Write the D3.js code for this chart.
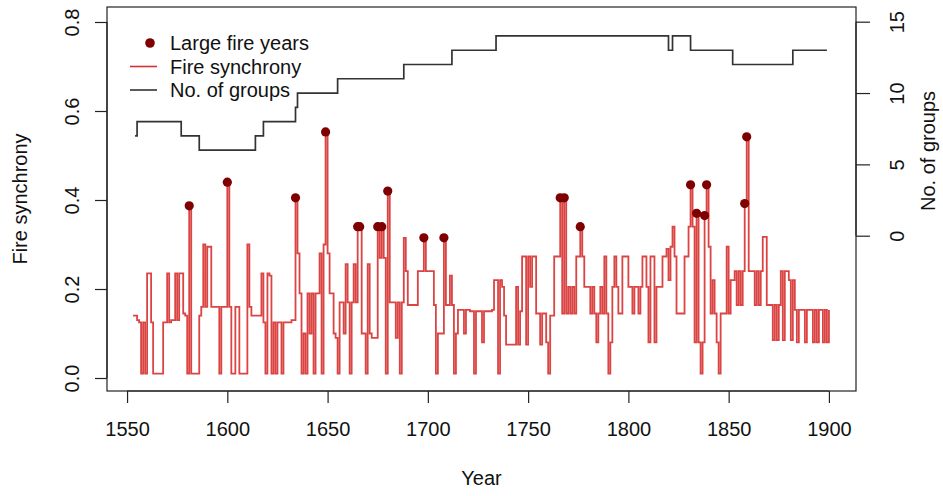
<!DOCTYPE html>
<html>
<head>
<meta charset="utf-8">
<script src="https://cdn.jsdelivr.net/npm/d3@7"></script>
<style>
  body { margin: 0; background: #fff; }
  svg { display: block; font-family: 'Liberation Sans', Arial, sans-serif; }
</style>
</head>
<body>
<svg width="943" height="496"></svg>
<script>
const svg = d3.select('svg');
const width = +svg.attr('width');
const height = +svg.attr('height');

// fire synchrony, one value per year from startYear
const startYear = 1553;
const synchrony = [
    0.14, 0.14, 0.13, 0.125, 0.01, 0.125, 0.01,
    0.235, 0.235, 0.125, 0.01, 0.01, 0.01, 0.01, 0.01, 0.125, 0.125,
    0.235, 0.125, 0.13, 0.13, 0.235, 0.13, 0.235, 0.235, 0.145, 0.14,
    0.01, 0.387, 0.01, 0.01, 0.01, 0.01, 0.14, 0.16, 0.3, 0.16,
    0.295, 0.295, 0.16, 0.16, 0.16, 0.16, 0.01, 0.16, 0.16, 0.16,
    0.44, 0.16, 0.01, 0.01, 0.16, 0.16, 0.01, 0.01, 0.01, 0.01,
    0.3, 0.16, 0.14, 0.14, 0.14, 0.14, 0.14, 0.235, 0.125, 0.01,
    0.235, 0.23, 0.01, 0.125, 0.01, 0.125, 0.125, 0.01, 0.125, 0.125,
    0.125, 0.125, 0.13, 0.13, 0.405, 0.28, 0.19, 0.01, 0.1, 0.01,
    0.19, 0.1, 0.19, 0.01, 0.19, 0.19, 0.28, 0.01, 0.3, 0.553,
    0.28, 0.19, 0.19, 0.1, 0.09, 0.01, 0.17, 0.17, 0.1, 0.256,
    0.17, 0.01, 0.17, 0.256, 0.17, 0.34, 0.34, 0.1, 0.1, 0.01,
    0.256, 0.1, 0.09, 0.09, 0.09, 0.34, 0.27, 0.34, 0.27, 0.01,
    0.42, 0.17, 0.17, 0.17, 0.09, 0.17, 0.01, 0.17, 0.315, 0.24,
    0.164, 0.164, 0.164, 0.164, 0.164, 0.24, 0.24, 0.24, 0.315, 0.24,
    0.24, 0.24, 0.24, 0.164, 0.01, 0.1, 0.1, 0.1, 0.315, 0.164,
    0.164, 0.23, 0.164, 0.01, 0.1, 0.153, 0.153, 0.153, 0.1, 0.153,
    0.153, 0.15, 0.15, 0.01, 0.15, 0.15, 0.15, 0.08, 0.15, 0.15,
    0.15, 0.15, 0.153, 0.22, 0.22, 0.01, 0.22, 0.205, 0.14, 0.075,
    0.075, 0.075, 0.075, 0.075, 0.205, 0.075, 0.15, 0.273, 0.273, 0.075,
    0.273, 0.205, 0.273, 0.273, 0.145, 0.145, 0.075, 0.145, 0.145, 0.08,
    0.01, 0.14, 0.14, 0.273, 0.273, 0.273, 0.405, 0.145, 0.405, 0.145,
    0.205, 0.145, 0.205, 0.145, 0.273, 0.273, 0.34, 0.273, 0.205, 0.205,
    0.205, 0.145, 0.205, 0.145, 0.08, 0.145, 0.205, 0.145, 0.273, 0.145,
    0.01, 0.08, 0.205, 0.273, 0.205, 0.145, 0.145, 0.273, 0.273, 0.273,
    0.205, 0.205, 0.145, 0.205, 0.205, 0.145, 0.205, 0.273, 0.273, 0.205,
    0.08, 0.273, 0.273, 0.08, 0.205, 0.205, 0.205, 0.273, 0.273, 0.29,
    0.22, 0.295, 0.34, 0.273, 0.145, 0.145, 0.145, 0.145, 0.273, 0.273,
    0.34, 0.434, 0.34, 0.08, 0.37, 0.08, 0.01, 0.08, 0.365, 0.434,
    0.295, 0.145, 0.22, 0.145, 0.08, 0.01, 0.145, 0.145, 0.145, 0.295,
    0.145, 0.22, 0.22, 0.24, 0.164, 0.24, 0.164, 0.24, 0.392, 0.542,
    0.24, 0.24, 0.24, 0.164, 0.24, 0.164, 0.24, 0.317, 0.317, 0.164,
    0.164, 0.164, 0.085, 0.164, 0.085, 0.164, 0.24, 0.085, 0.24, 0.24,
    0.22, 0.085, 0.22, 0.153, 0.08, 0.153, 0.153, 0.153, 0.08, 0.153,
    0.153, 0.153, 0.08, 0.153, 0.08, 0.153, 0.153, 0.08, 0.153, 0.08,
    0.153
];

const largeFireYears = [1581, 1600, 1634, 1649, 1665, 1666, 1675, 1677, 1680, 1698,
    1708, 1766, 1768, 1776, 1831, 1834, 1838, 1839, 1858, 1859];

// number of groups: year where the count changes, and the count from then on
const groupYears  = [1554, 1555, 1577, 1586, 1614, 1618, 1634, 1635, 1655, 1688, 1712, 1734, 1820, 1822, 1831, 1852, 1882, 1899];
const groupCounts = [7, 8, 7, 6, 7, 8, 9, 10, 11, 12, 13, 14, 13, 14, 13, 12, 13, 13];

const yearTicks = [1550, 1600, 1650, 1700, 1750, 1800, 1850, 1900];
const synchronyTicks = [0, 0.2, 0.4, 0.6, 0.8];
const groupTicks = [0, 5, 10, 15];

const legendLabels = ['Large fire years', 'Fire synchrony', 'No. of groups'];

const fireColor = '#d6302f';
const dotColor = '#7f0000';
const groupColor = '#333';
const fontSize = 20;

const render = () => {

    const box = { left: 107, right: 856, top: 7, bottom: 391 };

    const x = d3.scaleLinear()
        .domain([1540, 1913.5])
        .range([box.left, box.right]);

    const y = d3.scaleLinear()
        .domain([-0.0292, 0.8337])
        .range([box.bottom, box.top]);

    const y2 = d3.scaleLinear()
        .domain([-10.885, 16.03])
        .range([box.bottom, box.top]);

    const fireData = synchrony.map((v, i) => ({ year: startYear + i, value: v }));
    const groupData = groupYears.map((yr, i) => ({ year: yr, value: groupCounts[i] }));
    const dotData = largeFireYears.map(yr => ({ year: yr, value: synchrony[yr - startYear] }));

    const stepLine = scaleY => d3.line()
        .x(d => x(d.year))
        .y(d => scaleY(d.value))
        .curve(d3.curveStepAfter);

    // fire synchrony
    svg.append('path')
        .datum(fireData)
        .attr('d', stepLine(y))
        .attr('fill', 'none')
        .attr('stroke', fireColor)
        .attr('stroke-width', 1.8)
        .attr('stroke-opacity', 0.9);

    // groups
    svg.append('path')
        .datum(groupData)
        .attr('d', stepLine(y2))
        .attr('fill', 'none')
        .attr('stroke', groupColor)
        .attr('stroke-width', 1.7);

    // large fire years
    svg.selectAll('.dot').data(dotData).enter()
        .append('circle')
        .attr('class', 'dot')
        .attr('cx', d => x(d.year))
        .attr('cy', d => y(d.value))
        .attr('r', 4.6)
        .attr('fill', dotColor);

    // frame
    svg.append('rect')
        .attr('x', box.left)
        .attr('y', box.top)
        .attr('width', box.right - box.left)
        .attr('height', box.bottom - box.top)
        .attr('fill', 'none')
        .attr('stroke', '#222')
        .attr('stroke-width', 1.2);

    //axes
    const axisX = svg.append('g')
        .attr('transform', `translate(0,${box.bottom})`)
        .call(d3.axisBottom(x).tickValues(yearTicks).tickFormat(d3.format('d')).tickSize(12).tickPadding(19));
    axisX.select('.domain')
        .attr('d', `M${x(1550)},0H${x(1900)}`);

    const axisL = svg.append('g')
        .attr('transform', `translate(${box.left},0)`)
        .call(d3.axisLeft(y).tickValues(synchronyTicks).tickFormat(d3.format('.1f')).tickSize(12));
    axisL.select('.domain')
        .attr('d', `M0,${y(0)}V${y(0.8)}`);
    axisL.selectAll('.tick text')
        .attr('x', null).attr('dy', null)
        .attr('text-anchor', 'middle')
        .attr('transform', 'translate(-28,0) rotate(-90)');

    const axisR = svg.append('g')
        .attr('transform', `translate(${box.right},0)`)
        .call(d3.axisRight(y2).tickValues(groupTicks).tickSize(14));
    axisR.select('.domain')
        .attr('d', `M0,${y2(0)}V${y2(15)}`);
    axisR.selectAll('.tick text')
        .attr('x', null).attr('dy', null)
        .attr('text-anchor', 'middle')
        .attr('transform', 'translate(48,0) rotate(-90)');

    [axisX, axisL, axisR].forEach(a => {
        a.attr('font-size', fontSize)
            .attr('font-family', null);
        a.selectAll('line, path').attr('stroke', '#222').attr('stroke-width', 1.2);
        a.selectAll('text').attr('fill', '#111');
    });

    // axis titles
    svg.append('text')
        .attr('x', (box.left + box.right) / 2)
        .attr('y', 485)
        .attr('text-anchor', 'middle')
        .attr('font-size', fontSize)
        .attr('fill', '#111')
        .text('Year');

    svg.append('text')
        .attr('transform', `translate(27,${(box.top + box.bottom) / 2}) rotate(-90)`)
        .attr('text-anchor', 'middle')
        .attr('font-size', fontSize)
        .attr('fill', '#111')
        .text('Fire synchrony');

    svg.append('text')
        .attr('transform', `translate(935,151) rotate(-90)`)
        .attr('text-anchor', 'middle')
        .attr('font-size', fontSize)
        .attr('fill', '#111')
        .text('No. of groups');

    //legend
    const legend = svg.append('g')
        .attr('transform', 'translate(130,43)');
    const row = 23.5;

    legend.append('circle')
        .attr('cx', 20).attr('cy', 0).attr('r', 4.8)
        .attr('fill', dotColor);
    legend.append('line')
        .attr('x1', 0).attr('x2', 27).attr('y1', row).attr('y2', row)
        .attr('stroke', fireColor).attr('stroke-width', 1.6);
    legend.append('line')
        .attr('x1', 0).attr('x2', 27).attr('y1', row * 2).attr('y2', row * 2)
        .attr('stroke', groupColor).attr('stroke-width', 1.6);

    legend.selectAll('.label').data(legendLabels).enter()
        .append('text')
        .attr('class', 'label')
        .attr('x', 40)
        .attr('y', (d, i) => i * row)
        .attr('dy', '0.35em')
        .attr('font-size', fontSize)
        .attr('fill', '#111')
        .text(d => d);
};

render();
</script>
</body>
</html>
